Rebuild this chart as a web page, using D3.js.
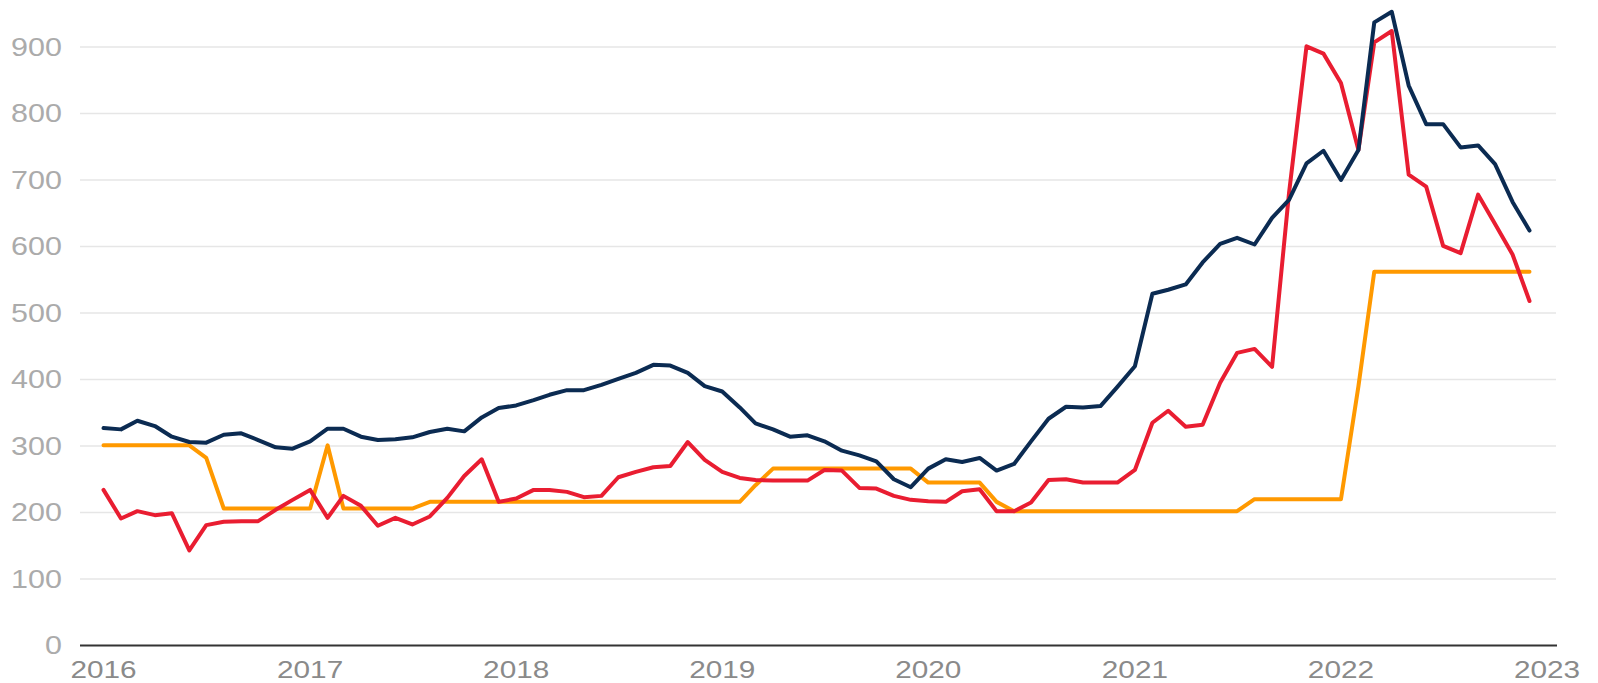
<!DOCTYPE html>
<html>
<head>
<meta charset="utf-8">
<script src="https://cdn.jsdelivr.net/npm/d3@7"></script>
<style>
  html, body { margin: 0; padding: 0; background: #fff; }
  svg { display: block; }
</style>
</head>
<body>
<div id="chart"></div>
<script>
// monthly values, Jan 2016 .. Dec 2022
const navySeries = [
  327, 325, 338, 330, 314, 306, 305, 317, 319, 309, 298, 296,
  307, 326, 326, 314, 309, 310, 313, 321, 326, 322, 343, 357,
  361, 369, 377, 384, 384, 392, 401, 410, 422, 421, 410, 390,
  382, 358, 334, 325, 314, 316, 307, 293, 286, 277, 250, 238,
  266, 280, 276, 282, 263, 273, 307, 341, 359, 358, 360, 389,
  420, 529, 535, 543, 576, 604, 613, 603, 643, 670, 725, 744,
  700, 745, 937, 953, 842, 784, 784, 749, 752, 724, 667, 624
];
const redSeries = [
  234, 191, 202, 196, 199, 143, 181, 186, 187, 187, 204, 219,
  234, 192, 225, 210, 180, 192, 182, 194, 222, 255, 280, 216,
  221, 234, 234, 231, 223, 225, 253, 261, 268, 270, 306, 279,
  261, 252, 249, 248, 248, 248, 264, 263, 237, 236, 225, 219,
  217, 216, 232, 235, 202, 202, 215, 249, 250, 245, 245, 245,
  264, 335, 353, 329, 332, 395, 440, 446, 419, 680, 901, 890,
  846, 745, 907, 924, 708, 690, 601, 590, 678, 634, 588, 518
];
const orangeSeries = [
  301, 301, 301, 301, 301, 301, 282, 206, 206, 206, 206, 206,
  206, 301, 206, 206, 206, 206, 206, 216, 216, 216, 216, 216,
  216, 216, 216, 216, 216, 216, 216, 216, 216, 216, 216, 216,
  216, 216, 241, 266, 266, 266, 266, 266, 266, 266, 266, 266,
  245, 245, 245, 245, 216, 202, 202, 202, 202, 202, 202, 202,
  202, 202, 202, 202, 202, 202, 202, 220, 220, 220, 220, 220,
  220, 390, 562, 562, 562, 562, 562, 562, 562, 562, 562, 562
];
const yTicks = [0, 100, 200, 300, 400, 500, 600, 700, 800, 900];
const xTickYears = [2016, 2017, 2018, 2019, 2020, 2021, 2022, 2023];

const width = 1598, height = 683;
const months = d3.timeMonth.range(new Date(2016, 0, 1), new Date(2023, 0, 1));

const svg = d3.select("#chart").append("svg")
  .attr("width", width)
  .attr("height", height);

const x = d3.scaleTime()
  .domain([new Date(2016, 0, 1), new Date(2023, 0, 1)])
  .range([103.5, 1547]);

const y = d3.scaleLinear()
  .domain([0, 900])
  .range([645.5, 47]);

const gridLeft = 80, gridRight = 1556;

// gridlines
svg.append("g").selectAll("line")
  .data(yTicks.filter(d => d > 0))
  .join("line")
  .attr("x1", gridLeft)
  .attr("x2", gridRight)
  .attr("y1", d => y(d))
  .attr("y2", d => y(d))
  .attr("stroke", "#e6e6e6")
  .attr("stroke-width", 1.6);

// y labels
svg.append("g").selectAll("text")
  .data(yTicks)
  .join("text")
  .attr("transform", d => `translate(62,${y(d)}) scale(1.22,1)`)
  .attr("text-anchor", "end")
  .attr("dominant-baseline", "central")
  .attr("font-family", "Liberation Sans, Arial, sans-serif")
  .attr("font-size", 25)
  .attr("fill", "#ababab")
  .text(d => d);

// x labels
svg.append("g").selectAll("text")
  .data(xTickYears)
  .join("text")
  .attr("transform", d => `translate(${x(new Date(d, 0, 1))},678) scale(1.24,1)`)
  .attr("text-anchor", "middle")
  .attr("font-family", "Liberation Sans, Arial, sans-serif")
  .attr("font-size", 24)
  .attr("fill", "#8a8a8a")
  .text(d => d);

// lines
const line = d3.line()
  .x((d, i) => x(months[i]))
  .y(d => y(d));

const seriesList = [
  {values: orangeSeries, color: "#ff9900"},
  {values: redSeries, color: "#e91d31"},
  {values: navySeries, color: "#0b2b52"}
];

svg.append("g").selectAll("path")
  .data(seriesList)
  .join("path")
  .attr("d", d => line(d.values))
  .attr("fill", "none")
  .attr("stroke", d => d.color)
  .attr("stroke-width", 4)
  .attr("stroke-linejoin", "round")
  .attr("stroke-linecap", "round");

// baseline
svg.append("line")
  .attr("x1", gridLeft)
  .attr("x2", 1557)
  .attr("y1", y(0))
  .attr("y2", y(0))
  .attr("stroke", "#333")
  .attr("stroke-width", 2.2);
</script>
</body>
</html>
